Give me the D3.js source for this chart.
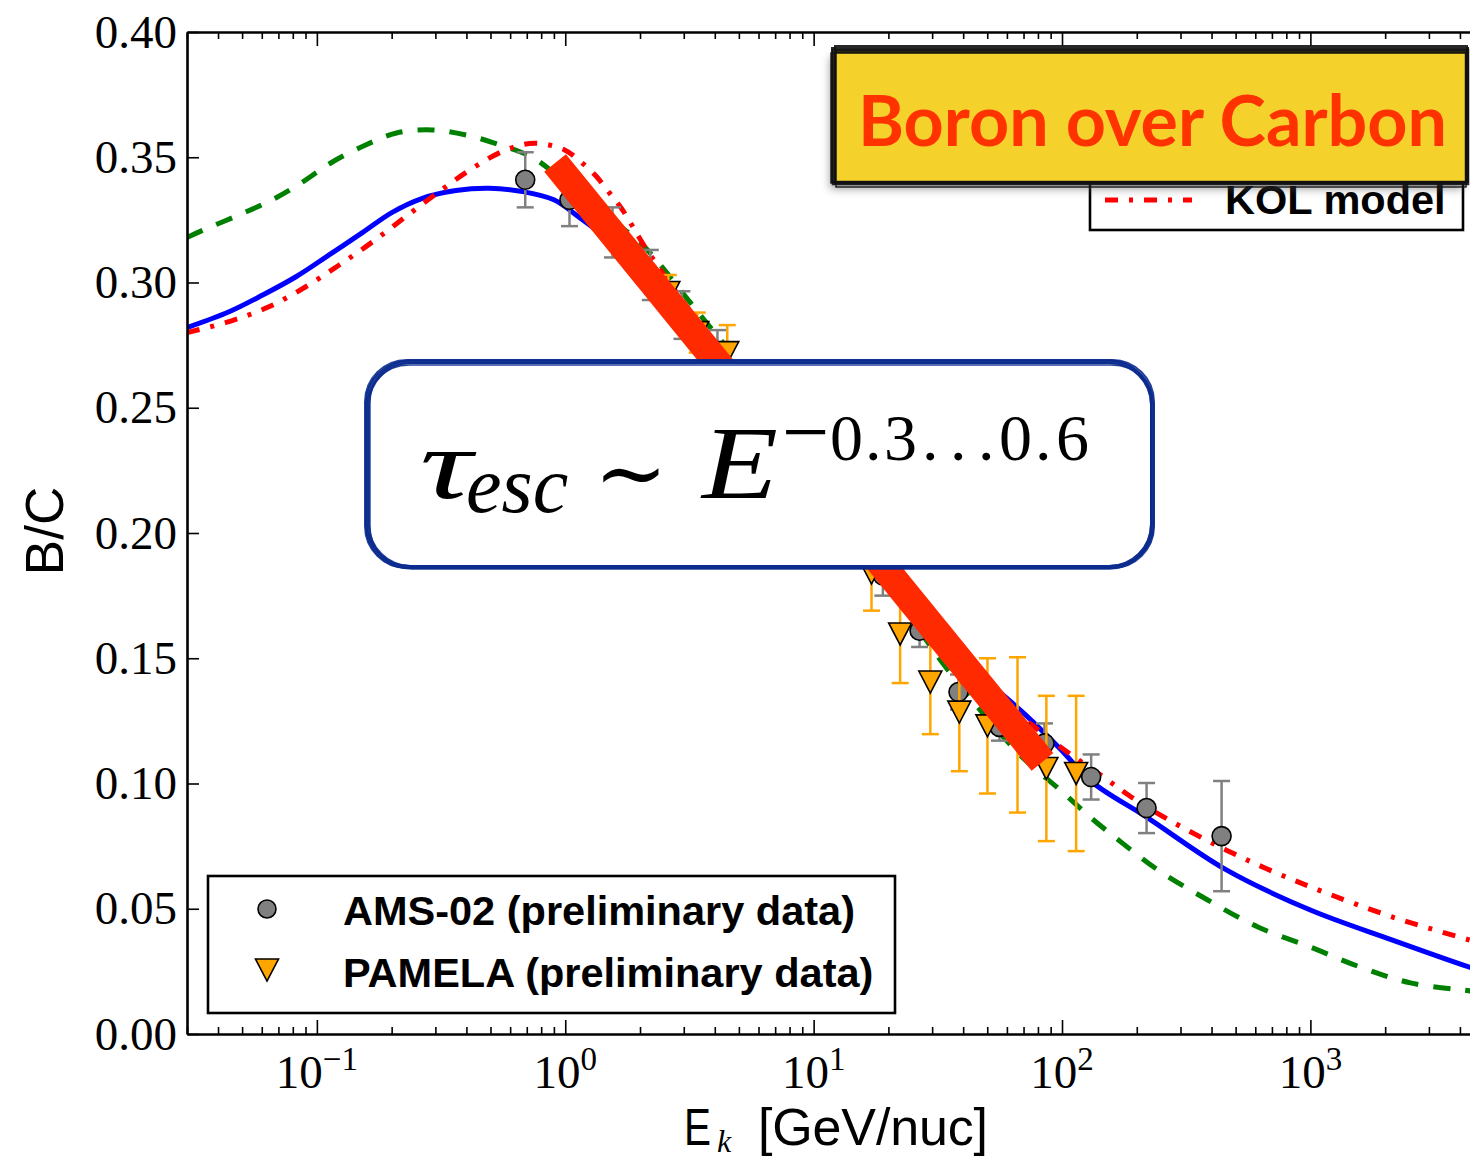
<!DOCTYPE html>
<html>
<head>
<meta charset="utf-8">
<script src="https://cdn.jsdelivr.net/npm/d3@7"></script>
<style>
  body { margin: 0; background: #fff; }
  svg { display: block; }
</style>
</head>
<body>
<div id="chart"></div>
<script>
var svgWidth = 1470;
var svgHeight = 1158;
var plot = { left: 187, right: 1484, top: 32, bottom: 1034 };

// ---- model curves (E_k in GeV/nuc, B/C) ----
// green dashed
var pdE  = [0.03, 0.035, 0.0486, 0.0661, 0.0873, 0.115, 0.158, 0.209, 0.291, 0.399, 0.542, 0.736, 1.0, 1.4, 2.0, 2.46, 3.07, 3.7, 5, 7, 10, 14, 20, 32, 50, 70, 98, 132, 175, 243, 386, 615, 1000, 1590, 2530, 4400, 5000];
var pdBC = [0.318, 0.321, 0.327, 0.333, 0.340, 0.348, 0.355, 0.3597, 0.3609, 0.3589, 0.355, 0.350, 0.340, 0.328, 0.316, 0.306, 0.294, 0.284, 0.268, 0.248, 0.226, 0.203, 0.180, 0.150, 0.126, 0.110, 0.0975, 0.086, 0.0762, 0.0655, 0.0535, 0.0427, 0.0347, 0.0267, 0.0204, 0.0172, 0.0166];
// blue solid
var kraE  = [0.03, 0.0443, 0.0605, 0.0824, 0.112, 0.153, 0.201, 0.266, 0.363, 0.494, 0.673, 0.9, 1.14, 1.5, 2, 3, 4, 6, 10, 15, 20, 32, 50, 72, 98, 132, 219, 459, 1000, 2141, 4373, 5000];
var kraBC = [0.282, 0.2883, 0.295, 0.3023, 0.311, 0.320, 0.328, 0.3336, 0.3367, 0.3376, 0.3363, 0.333, 0.326, 0.317, 0.306, 0.288, 0.274, 0.252, 0.222, 0.197, 0.181, 0.160, 0.141, 0.127, 0.114, 0.1006, 0.0866, 0.0655, 0.0495, 0.0375, 0.0267, 0.025];
// red dash-dot (KOL model)
var kolE  = [0.03, 0.0443, 0.0641, 0.0902, 0.123, 0.168, 0.228, 0.311, 0.423, 0.577, 0.75, 0.99, 1.16, 1.33, 1.5, 1.7, 2.1, 3, 5, 10, 20, 40, 60, 81, 107, 145, 190, 270, 457, 729, 1159, 2141, 4373, 5000];
var kolBC = [0.280, 0.2844, 0.2903, 0.2983, 0.307, 0.3163, 0.3263, 0.3363, 0.3456, 0.3529, 0.3556, 0.353, 0.348, 0.3425, 0.336, 0.329, 0.314, 0.292, 0.262, 0.224, 0.188, 0.151, 0.132, 0.121, 0.112, 0.103, 0.0946, 0.0854, 0.0735, 0.0643, 0.0563, 0.0467, 0.0375, 0.0358];

// ---- data ----
var amsE   = [0.69, 1.04, 1.55, 2.2, 2.95, 4.1, 5.8, 8.0, 11.5, 19.0, 26.7, 38.3, 56, 85, 131, 219, 439];
var amsBC  = [0.341, 0.333, 0.320, 0.303, 0.287, 0.272, 0.255, 0.236, 0.213, 0.183, 0.161, 0.1365, 0.1226, 0.116, 0.1026, 0.0902, 0.079];
var amsErr = [0.011, 0.0105, 0.010, 0.010, 0.0095, 0.009, 0.009, 0.009, 0.008, 0.008, 0.0065, 0.007, 0.0055, 0.008, 0.009, 0.010, 0.022];

var pamE   = [2.6, 3.4, 4.49, 6.5, 9, 12.5, 17.1, 22.3, 29.5, 38.6, 50.1, 66.2, 86.5, 114];
var pamBC  = [0.296, 0.280, 0.272, 0.252, 0.232, 0.206, 0.184, 0.1597, 0.1405, 0.1285, 0.123, 0.1194, 0.106, 0.104];
var pamErr = [0.007, 0.008, 0.011, 0.012, 0.013, 0.014, 0.015, 0.0196, 0.0208, 0.0236, 0.027, 0.031, 0.029, 0.031];

// slope band drawn across the data
var bandE  = [0.91, 83.4];
var bandBC = [0.3477, 0.1086];

// ---- ticks ----
var yTicks = [0, 0.05, 0.10, 0.15, 0.20, 0.25, 0.30, 0.35, 0.40];
var xMajor = [0.1, 1, 10, 100, 1000];
var xExpLabels = ["\u22121", "0", "1", "2", "3"];

var svg = d3.select("#chart")
  .append("svg")
  .attr("width", svgWidth)
  .attr("height", svgHeight);

var x = d3.scaleLog().domain([0.03, 5000]).range([plot.left, plot.right]);
var y = d3.scaleLinear().domain([0, 0.40]).range([plot.bottom, plot.top]);

var defs = svg.append("defs");
defs.append("clipPath").attr("id", "plotclip")
  .append("rect")
  .attr("x", plot.left).attr("y", plot.top)
  .attr("width", plot.right - plot.left).attr("height", plot.bottom - plot.top);
var shadow = defs.append("filter").attr("id", "shadow")
  .attr("x", "-10%").attr("y", "-20%").attr("width", "120%").attr("height", "150%");
shadow.append("feGaussianBlur").attr("stdDeviation", 4);

// minor ticks for the log axis
var xMinor = [];
[0.01, 0.1, 1, 10, 100, 1000].forEach(function(dec) {
  for (var k = 2; k <= 9; k++) {
    var v = dec * k;
    if (v >= 0.03 && v <= 5000) xMinor.push(v);
  }
});

// ---- curves ----
var line = d3.line()
  .x(d => x(d[0]))
  .y(d => y(d[1]))
  .curve(d3.curveCatmullRom.alpha(0.5));

var curves = [
  { e: pdE,  bc: pdBC,  color: "#008000", dash: "17,15" },
  { e: kraE, bc: kraBC, color: "#0000ff", dash: null },
  { e: kolE, bc: kolBC, color: "#ff0000", dash: "13,11,4,11" }
];

var curveGroup = svg.append("g").attr("clip-path", "url(#plotclip)");
curves.forEach(function(c) {
  curveGroup.append("path")
    .datum(c.e.map((e, i) => [e, c.bc[i]]))
    .attr("d", line)
    .attr("fill", "none")
    .attr("stroke", c.color)
    .attr("stroke-width", 5)
    .attr("stroke-dasharray", c.dash);
});

// ---- data points with error bars ----
function errorBars(g, es, vs, errs, color) {
  es.forEach(function(e, i) {
    var cx = x(e), lo = y(vs[i] - errs[i]), hi = y(vs[i] + errs[i]);
    g.append("line").attr("x1", cx).attr("x2", cx).attr("y1", lo).attr("y2", hi)
      .attr("stroke", color).attr("stroke-width", 2.5);
    [lo, hi].forEach(function(yy) {
      g.append("line").attr("x1", cx - 8.5).attr("x2", cx + 8.5).attr("y1", yy).attr("y2", yy)
        .attr("stroke", color).attr("stroke-width", 2.5);
    });
  });
}
function downTriangle(cx, cy, w, h) {
  return "M" + (cx - w / 2) + "," + (cy - h / 2) + "L" + (cx + w / 2) + "," + (cy - h / 2) +
    "L" + cx + "," + (cy + h / 2) + "Z";
}

var dataGroup = svg.append("g").attr("clip-path", "url(#plotclip)");
errorBars(dataGroup, amsE, amsBC, amsErr, "#808080");
amsE.forEach(function(e, i) {
  dataGroup.append("circle")
    .attr("cx", x(e)).attr("cy", y(amsBC[i])).attr("r", 9.5)
    .attr("fill", "#808080").attr("stroke", "#000").attr("stroke-width", 1.6);
});
errorBars(dataGroup, pamE, pamBC, pamErr, "#ffa500");
pamE.forEach(function(e, i) {
  dataGroup.append("path")
    .attr("d", downTriangle(x(e), y(pamBC[i]), 23, 22))
    .attr("fill", "#ffa500").attr("stroke", "#000").attr("stroke-width", 1.6)
    .attr("stroke-linejoin", "miter");
});

// ---- axes ----
function styleAxis(g) {
  g.select(".domain").attr("stroke", "#000").attr("stroke-width", 2.6);
  g.selectAll(".tick line").attr("stroke", "#000").attr("stroke-width", 1.6);
}
svg.append("g").attr("transform", `translate(0, ${plot.bottom})`)
  .call(d3.axisBottom(x).tickValues(xMajor).tickSize(-14).tickSizeOuter(0).tickFormat(""))
  .call(styleAxis);
svg.append("g").attr("transform", `translate(0, ${plot.bottom})`)
  .call(d3.axisBottom(x).tickValues(xMinor).tickSize(-7).tickSizeOuter(0).tickFormat(""))
  .call(styleAxis).call(g => g.select(".domain").remove());
svg.append("g").attr("transform", `translate(0, ${plot.top})`)
  .call(d3.axisTop(x).tickValues(xMajor).tickSize(-14).tickSizeOuter(0).tickFormat(""))
  .call(styleAxis);
svg.append("g").attr("transform", `translate(0, ${plot.top})`)
  .call(d3.axisTop(x).tickValues(xMinor).tickSize(-7).tickSizeOuter(0).tickFormat(""))
  .call(styleAxis).call(g => g.select(".domain").remove());

var yAxisG = svg.append("g").attr("transform", `translate(${plot.left}, 0)`)
  .call(d3.axisLeft(y).tickValues(yTicks).tickSize(-12).tickSizeOuter(0).tickPadding(10)
    .tickFormat(d3.format(".2f")))
  .call(styleAxis);
yAxisG.selectAll(".tick text")
  .attr("font-family", "'Liberation Serif', 'DejaVu Serif', serif")
  .attr("font-size", 47)
  .attr("fill", "#000");
svg.append("g").attr("transform", `translate(${plot.right}, 0)`)
  .call(d3.axisRight(y).tickValues(yTicks).tickSize(-12).tickSizeOuter(0).tickFormat(""))
  .call(styleAxis);

// x tick labels: 10^n
xMajor.forEach(function(v, i) {
  var t = svg.append("text")
    .attr("x", x(v)).attr("y", 1088)
    .attr("text-anchor", "middle")
    .attr("font-family", "'Liberation Serif', 'DejaVu Serif', serif")
    .attr("fill", "#000");
  t.append("tspan").attr("font-size", 47).text("10");
  t.append("tspan").attr("font-size", 33).attr("dy", -18).text(xExpLabels[i]);
});

// axis titles
var sans = "'Liberation Sans', Arial, sans-serif";
var serif = "'Liberation Serif', 'DejaVu Serif', serif";
svg.append("text").attr("x", 684).attr("y", 1145)
  .attr("font-family", sans).attr("font-size", 52).attr("textLength", 27)
  .attr("lengthAdjust", "spacingAndGlyphs").attr("fill", "#000").text("E");
svg.append("text").attr("x", 717).attr("y", 1152)
  .attr("font-family", serif).attr("font-style", "italic").attr("font-size", 32)
  .attr("fill", "#000").text("k");
svg.append("text").attr("x", 758).attr("y", 1145)
  .attr("font-family", sans).attr("font-size", 52).attr("textLength", 230)
  .attr("fill", "#000").text("[GeV/nuc]");

svg.append("text")
  .attr("transform", "translate(63, 531) rotate(-90)")
  .attr("text-anchor", "middle")
  .attr("font-family", sans)
  .attr("font-size", 53)
  .attr("fill", "#000")
  .text("B/C");

// ---- bottom-left legend ----
svg.append("rect")
  .attr("x", 208).attr("y", 876).attr("width", 687).attr("height", 137)
  .attr("fill", "#fff").attr("stroke", "#000").attr("stroke-width", 2.6);
svg.append("circle").attr("cx", 267).attr("cy", 909).attr("r", 9)
  .attr("fill", "#808080").attr("stroke", "#000").attr("stroke-width", 1.6);
svg.append("path").attr("d", downTriangle(267, 970, 23, 22))
  .attr("fill", "#ffa500").attr("stroke", "#000").attr("stroke-width", 1.6);

function fitText(sel, target) {
  var w = sel.node().getComputedTextLength();
  var fs = parseFloat(sel.attr("font-size"));
  sel.attr("font-size", fs * target / w);
}
var leg1 = svg.append("text").attr("x", 343).attr("y", 925)
  .attr("font-family", sans).attr("font-weight", "bold").attr("font-size", 41)
  .attr("fill", "#000").text("AMS-02 (preliminary data)");
fitText(leg1, 512);
svg.append("text").attr("x", 343).attr("y", 987)
  .attr("font-family", sans).attr("font-weight", "bold").attr("font-size", leg1.attr("font-size"))
  .attr("fill", "#000").text("PAMELA (preliminary data)");

// ---- top-right model legend (partly hidden) ----
svg.append("rect")
  .attr("x", 1090).attr("y", 110).attr("width", 373).attr("height", 120)
  .attr("fill", "#fff").attr("stroke", "#000").attr("stroke-width", 2.6);
svg.append("line").attr("x1", 1105).attr("x2", 1192).attr("y1", 200).attr("y2", 200)
  .attr("stroke", "#ff0000").attr("stroke-width", 5).attr("stroke-dasharray", "13,11,4,11");
svg.append("text").attr("x", 1225).attr("y", 214)
  .attr("font-family", sans).attr("font-weight", "bold").attr("font-size", leg1.attr("font-size"))
  .attr("fill", "#000").text("KOL model");

// ---- title box ----
var tb = { x: 834, y: 51, w: 633, h: 132 };
svg.append("rect")
  .attr("x", tb.x - 4).attr("y", tb.y + 6).attr("width", tb.w).attr("height", tb.h)
  .attr("fill", "#555").attr("opacity", 0.55).attr("filter", "url(#shadow)");
svg.append("rect")
  .attr("x", tb.x).attr("y", tb.y).attr("width", tb.w).attr("height", tb.h)
  .attr("fill", "#f5d22b");
var roughOffsets = [[0, 0, 0, 0, 4.5], [-2, -3, 3, 2, 2], [1, -5, -1, 4, 2], [-3, 2, 2, -2, 1.5], [2, -1, -3, 5, 1.5]];
roughOffsets.forEach(function(o) {
  svg.append("rect")
    .attr("x", tb.x + o[0]).attr("y", tb.y + o[1])
    .attr("width", tb.w + o[2]).attr("height", tb.h + o[3])
    .attr("fill", "none").attr("stroke", "#111").attr("stroke-width", o[4]).attr("opacity", 0.9);
});
svg.append("text")
  .attr("x", 858).attr("y", 146)
  .attr("font-family", "'Comic Sans MS', Lato, 'Open Sans', sans-serif")
  .attr("font-weight", "bold").attr("font-size", 70)
  .attr("textLength", 589)
  .attr("fill", "#ff3300")
  .text("Boron over Carbon");

// ---- slope band ----
svg.append("line")
  .attr("x1", x(bandE[0])).attr("y1", y(bandBC[0]))
  .attr("x2", x(bandE[1])).attr("y2", y(bandBC[1]))
  .attr("stroke", "#ff2a00").attr("stroke-width", 28);

// ---- formula box ----
var fb = { x: 367, y: 362, w: 785, h: 205, r: 42 };
svg.append("rect")
  .attr("x", fb.x).attr("y", fb.y).attr("width", fb.w).attr("height", fb.h)
  .attr("rx", fb.r).attr("fill", "#fff");
var boxOffsets = [[0, 0, 0, 0, 4], [-2, -2, 4, 3, 2], [2, 1, -3, -2, 2], [0, 3, 2, -4, 1.6], [-1, -1, 1, 2, 1.6], [3, -2, -4, 4, 1.4]];
boxOffsets.forEach(function(o) {
  svg.append("rect")
    .attr("x", fb.x + o[0]).attr("y", fb.y + o[1])
    .attr("width", fb.w + o[2]).attr("height", fb.h + o[3])
    .attr("rx", fb.r)
    .attr("fill", "none").attr("stroke", "#0b2b8e").attr("stroke-width", o[4]).attr("opacity", 0.9);
});
svg.append("text").attr("x", 420).attr("y", 498)
  .attr("font-family", serif).attr("font-style", "italic").attr("font-size", 100)
  .attr("textLength", 52).attr("lengthAdjust", "spacingAndGlyphs")
  .attr("fill", "#000").text("\u03c4");
svg.append("text").attr("x", 466).attr("y", 512)
  .attr("font-family", serif).attr("font-style", "italic").attr("font-size", 80)
  .attr("fill", "#000").text("esc");
svg.append("text").attr("x", 594).attr("y", 503)
  .attr("font-family", "'DejaVu Serif', serif").attr("font-size", 88)
  .attr("fill", "#000").text("\u223c");
svg.append("text").attr("x", 702).attr("y", 498)
  .attr("font-family", serif).attr("font-style", "italic").attr("font-size", 104)
  .attr("textLength", 76).attr("lengthAdjust", "spacingAndGlyphs")
  .attr("fill", "#000").text("E");
// exponent, one glyph per position
var supChars = ["\u2212", "0", ".", "3", ".", ".", ".", "0", ".", "6"];
var supX = [782, 830, 865, 884, 922, 950, 978, 999, 1035, 1056];
var sup = svg.append("text").attr("y", 460)
  .attr("font-family", serif).attr("font-size", 66).attr("fill", "#000");
supChars.forEach(function(ch, i) {
  sup.append("tspan").attr("x", supX[i])
    .attr("font-size", i === 0 ? 84 : 66)
    .text(ch);
});
</script>
</body>
</html>
